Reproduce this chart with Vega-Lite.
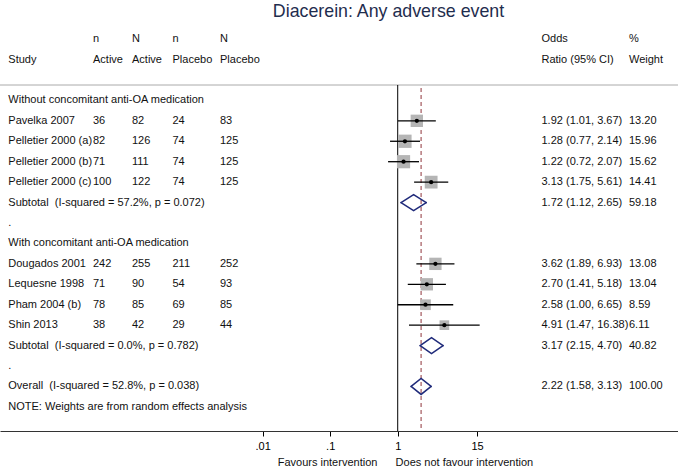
{
  "$schema": "https://vega.github.io/schema/vega-lite/v6.json",
  "width": 678,
  "height": 406,
  "autosize": {"type": "none"},
  "padding": {"left": 0, "right": 0, "top": 25, "bottom": 39},
  "background": "white",
  "title": {"text": "Diacerein: Any adverse event", "anchor": "middle", "frame": "group", "dx": 49.5, "offset": 4, "font": "Liberation Sans", "fontSize": 17.8, "fontWeight": "normal", "color": "#1f2d4e"},
  "config": {
    "view": {"stroke": null},
    "text": {"font": "Liberation Sans", "fontSize": 11, "align": "left", "baseline": "middle", "color": "#111111"}
  },
  "datasets": {
    "rows": [
      {"row": 1, "label": "Without concomitant anti-OA medication", "type": "group"},
      {"row": 2, "label": "Pavelka 2007", "nA": "36", "NA": "82", "nP": "24", "NP": "83", "est": 1.92, "lo": 1.01, "hi": 3.67, "w": 13.20, "ci": "1.92 (1.01, 3.67)", "wt": "13.20", "type": "study"},
      {"row": 3, "label": "Pelletier 2000 (a)", "nA": "82", "NA": "126", "nP": "74", "NP": "125", "est": 1.28, "lo": 0.77, "hi": 2.14, "w": 15.96, "ci": "1.28 (0.77, 2.14)", "wt": "15.96", "type": "study"},
      {"row": 4, "label": "Pelletier 2000 (b)", "nA": "71", "NA": "111", "nP": "74", "NP": "125", "est": 1.22, "lo": 0.72, "hi": 2.07, "w": 15.62, "ci": "1.22 (0.72, 2.07)", "wt": "15.62", "type": "study"},
      {"row": 5, "label": "Pelletier 2000 (c)", "nA": "100", "NA": "122", "nP": "74", "NP": "125", "est": 3.13, "lo": 1.75, "hi": 5.61, "w": 14.41, "ci": "3.13 (1.75, 5.61)", "wt": "14.41", "type": "study"},
      {"row": 6, "label": "Subtotal\u00a0 (I-squared = 57.2%, p = 0.072)", "est": 1.72, "lo": 1.12, "hi": 2.65, "w": 59.18, "ci": "1.72 (1.12, 2.65)", "wt": "59.18", "type": "subtotal"},
      {"row": 7, "label": ".", "type": "spacer"},
      {"row": 8, "label": "With concomitant anti-OA medication", "type": "group"},
      {"row": 9, "label": "Dougados 2001", "nA": "242", "NA": "255", "nP": "211", "NP": "252", "est": 3.62, "lo": 1.89, "hi": 6.93, "w": 13.08, "ci": "3.62 (1.89, 6.93)", "wt": "13.08", "type": "study"},
      {"row": 10, "label": "Lequesne 1998", "nA": "71", "NA": "90", "nP": "54", "NP": "93", "est": 2.70, "lo": 1.41, "hi": 5.18, "w": 13.04, "ci": "2.70 (1.41, 5.18)", "wt": "13.04", "type": "study"},
      {"row": 11, "label": "Pham 2004 (b)", "nA": "78", "NA": "85", "nP": "69", "NP": "85", "est": 2.58, "lo": 1.00, "hi": 6.65, "w": 8.59, "ci": "2.58 (1.00, 6.65)", "wt": "8.59", "type": "study"},
      {"row": 12, "label": "Shin 2013", "nA": "38", "NA": "42", "nP": "29", "NP": "44", "est": 4.91, "lo": 1.47, "hi": 16.38, "w": 6.11, "ci": "4.91 (1.47, 16.38)", "wt": "6.11", "type": "study"},
      {"row": 13, "label": "Subtotal\u00a0 (I-squared = 0.0%, p = 0.782)", "est": 3.17, "lo": 2.15, "hi": 4.70, "w": 40.82, "ci": "3.17 (2.15, 4.70)", "wt": "40.82", "type": "subtotal"},
      {"row": 14, "label": ".", "type": "spacer"},
      {"row": 15, "label": "Overall\u00a0 (I-squared = 52.8%, p = 0.038)", "est": 2.22, "lo": 1.58, "hi": 3.13, "w": 100.00, "ci": "2.22 (1.58, 3.13)", "wt": "100.00", "type": "overall"},
      {"row": 16, "label": "NOTE: Weights are from random effects analysis", "type": "note"}
    ],
    "header": [
      {"row": -2, "label": "", "nA": "n", "NA": "N", "nP": "n", "NP": "N", "ci": "Odds", "wt": "%"},
      {"row": -1, "label": "Study", "nA": "Active", "NA": "Active", "nP": "Placebo", "NP": "Placebo", "ci": "Ratio (95% CI)", "wt": "Weight"}
    ],
    "favours": [{"side": "left", "text": "Favours intervention"}, {"side": "right", "text": "Does not favour intervention"}]
  },
  "layer": [
    {
      "layer": [
        {"data": {"name": "rows"}, "mark": "text",
         "encoding": {"x": {"datum": 0, "type": "quantitative", "scale": {"domain": [0, 1, 2, 3, 4, 5, 6], "range": [8.3, 93, 132, 172.5, 220, 541.5, 629], "nice": false, "zero": false}, "axis": null},
                      "y": {"field": "row", "type": "quantitative", "scale": {"domain": [-2.69, 17.18], "reverse": true, "nice": false, "zero": false}, "axis": null},
                      "text": {"field": "label"}}},
        {"data": {"name": "rows"}, "transform": [{"filter": "isValid(datum.nA)"}], "mark": "text",
         "encoding": {"x": {"datum": 1, "type": "quantitative", "axis": null}, "y": {"field": "row", "type": "quantitative", "axis": null}, "text": {"field": "nA"}}},
        {"data": {"name": "rows"}, "transform": [{"filter": "isValid(datum.NA)"}], "mark": "text",
         "encoding": {"x": {"datum": 2, "type": "quantitative", "axis": null}, "y": {"field": "row", "type": "quantitative", "axis": null}, "text": {"field": "NA"}}},
        {"data": {"name": "rows"}, "transform": [{"filter": "isValid(datum.nP)"}], "mark": "text",
         "encoding": {"x": {"datum": 3, "type": "quantitative", "axis": null}, "y": {"field": "row", "type": "quantitative", "axis": null}, "text": {"field": "nP"}}},
        {"data": {"name": "rows"}, "transform": [{"filter": "isValid(datum.NP)"}], "mark": "text",
         "encoding": {"x": {"datum": 4, "type": "quantitative", "axis": null}, "y": {"field": "row", "type": "quantitative", "axis": null}, "text": {"field": "NP"}}},
        {"data": {"name": "rows"}, "transform": [{"filter": "isValid(datum.ci)"}], "mark": "text",
         "encoding": {"x": {"datum": 5, "type": "quantitative", "axis": null}, "y": {"field": "row", "type": "quantitative", "axis": null}, "text": {"field": "ci"}}},
        {"data": {"name": "rows"}, "transform": [{"filter": "isValid(datum.wt)"}], "mark": "text",
         "encoding": {"x": {"datum": 6, "type": "quantitative", "axis": null}, "y": {"field": "row", "type": "quantitative", "axis": null}, "text": {"field": "wt"}}},
        {"data": {"name": "header"}, "mark": "text", "encoding": {"x": {"datum": 0, "type": "quantitative", "axis": null}, "y": {"field": "row", "type": "quantitative", "axis": null}, "text": {"field": "label"}}},
        {"data": {"name": "header"}, "mark": "text", "encoding": {"x": {"datum": 1, "type": "quantitative", "axis": null}, "y": {"field": "row", "type": "quantitative", "axis": null}, "text": {"field": "nA"}}},
        {"data": {"name": "header"}, "mark": "text", "encoding": {"x": {"datum": 2, "type": "quantitative", "axis": null}, "y": {"field": "row", "type": "quantitative", "axis": null}, "text": {"field": "NA"}}},
        {"data": {"name": "header"}, "mark": "text", "encoding": {"x": {"datum": 3, "type": "quantitative", "axis": null}, "y": {"field": "row", "type": "quantitative", "axis": null}, "text": {"field": "nP"}}},
        {"data": {"name": "header"}, "mark": "text", "encoding": {"x": {"datum": 4, "type": "quantitative", "axis": null}, "y": {"field": "row", "type": "quantitative", "axis": null}, "text": {"field": "NP"}}},
        {"data": {"name": "header"}, "mark": "text", "encoding": {"x": {"datum": 5, "type": "quantitative", "axis": null}, "y": {"field": "row", "type": "quantitative", "axis": null}, "text": {"field": "ci"}}},
        {"data": {"name": "header"}, "mark": "text", "encoding": {"x": {"datum": 6, "type": "quantitative", "axis": null}, "y": {"field": "row", "type": "quantitative", "axis": null}, "text": {"field": "wt"}}},
        {"data": {"name": "rows"}, "transform": [{"filter": "datum.type == 'overall'"}], "mark": {"type": "rule", "color": "#aaaaaa", "strokeWidth": 1},
         "encoding": {"y": {"datum": 0.247, "type": "quantitative", "axis": null}}}
      ]
    },
    {
      "layer": [
        {"data": {"name": "rows"}, "transform": [{"filter": "datum.type == 'overall'"}], "mark": {"type": "rule", "color": "#000000", "strokeWidth": 1},
         "encoding": {
           "x": {"datum": 1, "type": "quantitative", "scale": {"type": "log", "domain": [1.282e-6, 14213], "nice": false},
                 "axis": {"values": [0.01, 0.1, 1, 15], "labelExpr": "datum.value < 1 ? substring(toString(datum.value), 1) : toString(datum.value)", "title": null, "grid": false, "orient": "bottom", "domain": true, "domainColor": "#333333", "domainWidth": 1, "ticks": true, "tickColor": "#000000", "tickSize": 5, "tickWidth": 1, "labelFont": "Liberation Sans", "labelFontSize": 11, "labelColor": "#000000", "labelPadding": 4, "labelFlush": false, "labelOverlap": false}},
           "y": {"datum": 0.247, "type": "quantitative", "axis": null},
           "y2": {"datum": 17.18}}},
        {"data": {"name": "rows"}, "transform": [{"filter": "datum.type == 'overall'"}], "mark": {"type": "rule", "color": "#90353b", "strokeWidth": 1, "strokeDash": [4, 3]},
         "encoding": {"x": {"field": "est", "type": "quantitative"}, "y": {"datum": 0.394, "type": "quantitative", "axis": null}, "y2": {"datum": 17.18}}},
        {"data": {"name": "rows"}, "transform": [{"filter": "datum.type == 'study'"}], "mark": {"type": "point", "shape": "square", "filled": true, "color": "#b5b5b5", "opacity": 1},
         "encoding": {"x": {"field": "est", "type": "quantitative"}, "y": {"field": "row", "type": "quantitative", "axis": null},
                      "size": {"field": "w", "type": "quantitative", "scale": {"domain": [0, 16], "range": [42, 177]}, "legend": null}}},
        {"data": {"name": "rows"}, "transform": [{"filter": "datum.type == 'study'"}], "mark": {"type": "rule", "color": "#000000", "strokeWidth": 1.3},
         "encoding": {"x": {"field": "lo", "type": "quantitative"}, "x2": {"field": "hi"}, "y": {"field": "row", "type": "quantitative", "axis": null}}},
        {"data": {"name": "rows"}, "transform": [{"filter": "datum.type == 'study'"}], "mark": {"type": "point", "shape": "circle", "filled": true, "color": "#000000", "opacity": 1, "size": 18},
         "encoding": {"x": {"field": "est", "type": "quantitative"}, "y": {"field": "row", "type": "quantitative", "axis": null}}},
        {"data": {"name": "rows"}, "transform": [{"filter": "datum.type == 'subtotal' || datum.type == 'overall'"}, {"fold": ["lo", "est", "hi"]}],
         "mark": {"type": "line", "color": "#1f2a7a", "strokeWidth": 1.5, "strokeCap": "round", "yOffset": {"expr": "datum.key == 'est' ? -8 : 0"}},
         "encoding": {"x": {"field": "value", "type": "quantitative"}, "y": {"field": "row", "type": "quantitative", "axis": null}, "detail": {"field": "row"}}},
        {"data": {"name": "rows"}, "transform": [{"filter": "datum.type == 'subtotal' || datum.type == 'overall'"}, {"fold": ["lo", "est", "hi"]}],
         "mark": {"type": "line", "color": "#1f2a7a", "strokeWidth": 1.5, "strokeCap": "round", "yOffset": {"expr": "datum.key == 'est' ? 8 : 0"}},
         "encoding": {"x": {"field": "value", "type": "quantitative"}, "y": {"field": "row", "type": "quantitative", "axis": null}, "detail": {"field": "row"}}},
        {"data": {"name": "favours"}, "transform": [{"filter": "datum.side == 'left'"}], "mark": {"type": "text", "align": "right"},
         "encoding": {"x": {"datum": 0.5, "type": "quantitative"}, "y": {"datum": 18.75, "type": "quantitative", "axis": null}, "text": {"field": "text"}}},
        {"data": {"name": "favours"}, "transform": [{"filter": "datum.side == 'right'"}], "mark": {"type": "text", "align": "left"},
         "encoding": {"x": {"datum": 0.93, "type": "quantitative"}, "y": {"datum": 18.75, "type": "quantitative", "axis": null}, "text": {"field": "text"}}}
      ]
    }
  ],
  "resolve": {"scale": {"x": "independent"}, "axis": {"x": "independent"}}
}
